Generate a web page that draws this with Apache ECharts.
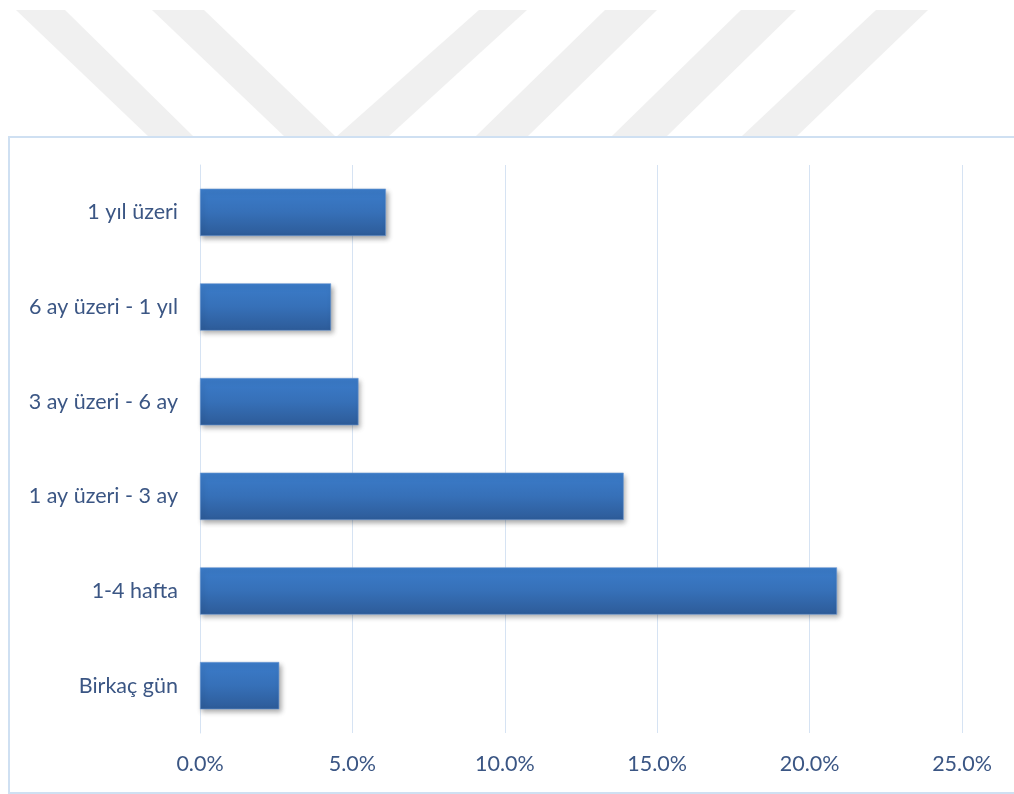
<!DOCTYPE html>
<html>
<head>
<meta charset="utf-8">
<script src="https://cdn.jsdelivr.net/npm/echarts@6/dist/echarts.min.js"></script>
<style>
  html, body { margin: 0; padding: 0; background: #ffffff; }
  #chart { width: 1014px; height: 794px; }
</style>
</head>
<body>
<div id="chart"></div>
<script>
// Duration categories, bottom to top
const categories = ['Birkaç gün', '1-4 hafta', '1 ay üzeri - 3 ay', '3 ay üzeri - 6 ay', '6 ay üzeri - 1 yıl', '1 yıl üzeri'];
// Share of respondents (%)
const shares = [2.6, 20.9, 13.9, 5.2, 4.3, 6.1];
// Value axis ticks (%)
const axisMin = 0;
const axisMax = 25;
const axisStep = 5;

const textColor = '#3b5684';
const gridColor = '#d6e3f3';

// Decorative grey chevron stripes across the page header
const stripes = [
  [[16, 10], [65, 10], [194, 137], [149, 137]],
  [[152, 10], [204, 10], [336, 137], [285, 137]],
  [[479, 10], [527, 10], [388, 137], [336, 137]],
  [[605, 10], [657, 10], [527, 137], [475, 137]],
  [[741, 10], [796, 10], [666, 137], [611, 137]],
  [[876, 10], [928, 10], [796, 137], [741, 137]]
];

const chart = echarts.init(document.getElementById('chart'), null, { renderer: 'canvas' });

const graphics = stripes.map(pts => ({
  type: 'polygon',
  shape: { points: pts },
  style: { fill: '#f0f0f0' },
  z: -10,
  silent: true
}));
graphics.push({
  type: 'rect',
  shape: { x: 9, y: 137, width: 1012, height: 656 },
  style: { fill: '#ffffff', stroke: '#cfe0f2', lineWidth: 2 },
  z: -5,
  silent: true
});

chart.setOption({
  animation: false,
  backgroundColor: '#ffffff',
  graphic: graphics,
  grid: { left: 200, right: 52, top: 165, bottom: 61, containLabel: false },
  xAxis: {
    type: 'value',
    min: axisMin,
    max: axisMax,
    interval: axisStep,
    axisLine: { show: false },
    axisTick: { show: false },
    splitLine: { show: true, lineStyle: { color: gridColor, width: 1 } },
    axisLabel: {
      color: textColor,
      fontFamily: 'Lato, "Open Sans", sans-serif',
      fontSize: 21.5,
      margin: 20,
      formatter: v => v.toFixed(1) + '%'
    }
  },
  yAxis: {
    type: 'category',
    data: categories,
    axisLine: { show: true, lineStyle: { color: gridColor, width: 1 } },
    axisTick: { show: false },
    axisLabel: {
      color: textColor,
      fontFamily: 'Lato, "Open Sans", sans-serif',
      fontSize: 21.5,
      margin: 22
    }
  },
  series: [{
    type: 'bar',
    data: shares,
    barWidth: '50%',
    itemStyle: {
      color: new echarts.graphic.LinearGradient(0, 0, 0, 1, [
        { offset: 0, color: '#3b7cca' },
        { offset: 0.5, color: '#3670b8' },
        { offset: 1, color: '#2d5b98' }
      ]),
      borderColor: '#6f9bd3',
      borderWidth: 0.6,
      shadowColor: 'rgba(0,0,0,0.35)',
      shadowBlur: 5,
      shadowOffsetX: 2,
      shadowOffsetY: 3
    }
  }]
});
</script>
</body>
</html>
